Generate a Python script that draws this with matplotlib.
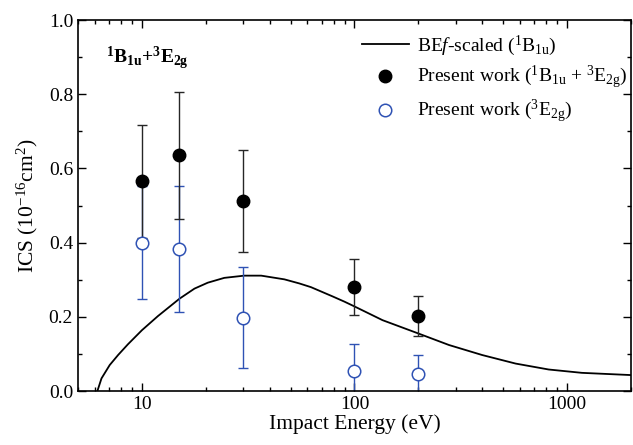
import matplotlib
matplotlib.use("Agg")
import matplotlib.pyplot as plt
from matplotlib.ticker import LogLocator, MultipleLocator, NullFormatter, FixedLocator, FixedFormatter

plt.rcParams["font.family"] = "Liberation Serif"
plt.rcParams["mathtext.fontset"] = "custom"
plt.rcParams["mathtext.rm"] = "Liberation Serif"
plt.rcParams["mathtext.it"] = "Liberation Serif:italic"
plt.rcParams["mathtext.bf"] = "Liberation Serif:bold"

# BEf-scaled curve (1B1u)
curve_e = [6.17, 6.45, 7.05, 7.72, 8.59, 10, 11.89, 15.03, 17.66, 20.4, 24.4, 30.3, 36.4,
           46.8, 55.0, 62.4, 78.9, 89.6, 100, 135.5, 200, 278.5, 399, 573, 820, 1175, 2000]
curve_ics = [0.0, 0.034, 0.070, 0.097, 0.126, 0.164, 0.202, 0.249, 0.276, 0.292, 0.305, 0.311, 0.311,
             0.301, 0.290, 0.280, 0.255, 0.241, 0.228, 0.191, 0.155, 0.124, 0.097, 0.074, 0.058, 0.049, 0.043]

# present work
energies = [10, 15, 30, 100, 200]
total_ics = [0.565, 0.635, 0.512, 0.280, 0.202]
total_err = [0.152, 0.170, 0.137, 0.075, 0.053]
e2g_ics = [0.400, 0.382, 0.198, 0.053, 0.046]
e2g_err = [0.153, 0.170, 0.137, 0.074, 0.052]

blue = "#2f52b4"

fig = plt.figure(figsize=(6.33, 4.45), dpi=100)
ax = fig.add_axes([0.1232, 0.1213, 0.8736, 0.8337])

line, = ax.plot(curve_e, curve_ics, color="black", lw=1.3,
                label=r"BE$\it{f}$-scaled ($^{1}$B$_{\rm 1u}$)")
ax.errorbar(energies, e2g_ics, yerr=e2g_err, fmt="none", ecolor=blue,
            elinewidth=1, capsize=3.5, capthick=1, zorder=2)
ax.errorbar(energies, total_ics, yerr=total_err, fmt="none", ecolor="#262626",
            elinewidth=1, capsize=3.5, capthick=1, zorder=3)
open_pts, = ax.plot(energies, e2g_ics, "o", color=blue, mfc="white", mec=blue, mew=1.1, ms=9,
                    label=r"Present work ($^{3}$E$_{\rm 2g}$)", zorder=4)
full_pts, = ax.plot(energies, total_ics, "o", color="black", ms=9,
                    label=r"Present work ($^{1}$B$_{\rm 1u}$ + $^{3}$E$_{\rm 2g}$)", zorder=5)

ax.set_xscale("log")
ax.set_xlim(5, 2000)
ax.set_ylim(0, 1.0)
ax.xaxis.set_major_locator(FixedLocator([10, 100, 1000]))
ax.xaxis.set_major_formatter(FixedFormatter(["10", "100", "1000"]))
ax.xaxis.set_minor_locator(LogLocator(base=10, subs=range(2, 10)))
ax.xaxis.set_minor_formatter(NullFormatter())
ax.yaxis.set_major_locator(MultipleLocator(0.2))
ax.yaxis.set_minor_locator(MultipleLocator(0.1))
ax.yaxis.set_major_formatter(plt.FuncFormatter(lambda v, p: f"{v:.1f}"))

ax.tick_params(which="both", direction="in", top=True, right=True, labelsize=14, width=1)
ax.tick_params(which="major", length=5.5)
ax.tick_params(which="minor", length=3)
for s in ax.spines.values():
    s.set_linewidth(1.2)

ax.set_xlabel("Impact Energy (eV)", fontsize=15.5, labelpad=1)
ax.set_ylabel(r"ICS (10$^{-16}$cm$^{2}$)", fontsize=15.5, labelpad=6)

ax.text(0.05, 0.884, r"$^{\mathbf{1}}\mathbf{B}_{\mathbf{1u}}\mathbf{+}^{\mathbf{3}}\mathbf{E}_{\mathbf{2g}}$",
        transform=ax.transAxes, fontsize=14, va="baseline")

ax.legend(handles=[line, full_pts, open_pts], loc="upper right", bbox_to_anchor=(1.0, 0.975),
          frameon=False, fontsize=14, handlelength=2.4, borderaxespad=0, borderpad=0.2,
          labelspacing=0.35, handletextpad=0.4)

fig.savefig("out.png", dpi=100)
